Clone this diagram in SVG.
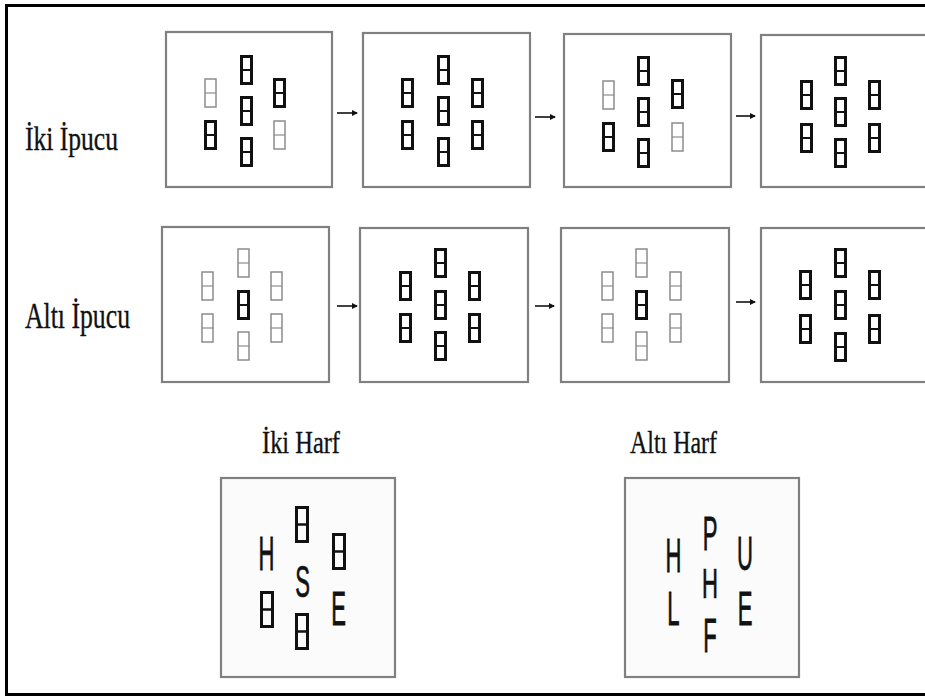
<svg xmlns="http://www.w3.org/2000/svg" xmlns:xlink="http://www.w3.org/1999/xlink" width="925" height="696" viewBox="0 0 925 696">
<style>
.frame{fill:#fff;stroke:#808080;stroke-width:2.2}
.bframe{fill:#fbfbfb;stroke:#808080;stroke-width:2.2}
.lbl{font-family:"Liberation Serif","Times New Roman",serif;fill:#111;stroke:#111;stroke-width:0.3}
.seg{font-family:"Liberation Sans",Arial,sans-serif;font-size:48px;fill:#111;stroke:#111;stroke-width:0.8;text-anchor:middle}
.arr{stroke:#111;stroke-width:1.6;fill:none}
</style>
<defs>
<g id="dk"><rect x="1.5" y="1.5" width="10" height="27" fill="none" stroke="#111" stroke-width="3"/><line x1="1.5" y1="15" x2="11.5" y2="15" stroke="#111" stroke-width="2"/></g>
<g id="lt"><rect x="1" y="1" width="11" height="28" fill="none" stroke="#8c8c8c" stroke-width="1.5"/><line x1="1" y1="15" x2="12" y2="15" stroke="#8c8c8c" stroke-width="1.2"/></g>
<g id="bg"><rect x="1.5" y="1.5" width="11" height="34" fill="none" stroke="#111" stroke-width="3"/><line x1="1.5" y1="18.5" x2="12.5" y2="18.5" stroke="#111" stroke-width="2.5"/></g>
<marker id="ah" markerWidth="6" markerHeight="6" refX="5" refY="3" orient="auto" markerUnits="userSpaceOnUse"><path d="M0,0 L6,3 L0,6 Z" fill="#111"/></marker>
</defs>
<rect x="0" y="0" width="925" height="696" fill="#fff"/>
<rect x="6.5" y="5.5" width="940" height="689" fill="none" stroke="#000" stroke-width="3"/>

<g id="labels">
<text class="lbl" transform="translate(25,150) scale(1,1.15)" font-size="30" textLength="93" lengthAdjust="spacingAndGlyphs">İki İpucu</text>
<text class="lbl" transform="translate(25,328) scale(1,1.15)" font-size="31" textLength="105" lengthAdjust="spacingAndGlyphs">Altı İpucu</text>
<text class="lbl" transform="translate(262,453) scale(1,1.15)" font-size="28" textLength="78" lengthAdjust="spacingAndGlyphs">İki Harf</text>
<text class="lbl" transform="translate(630,453) scale(1,1.15)" font-size="28" textLength="87" lengthAdjust="spacingAndGlyphs">Altı Harf</text>
</g>

<g id="r1p1">
<rect class="frame" x="166" y="32" width="166" height="155"/>
<use href="#lt" x="204" y="78"/><use href="#dk" x="204" y="120"/>
<use href="#dk" x="240" y="55"/><use href="#dk" x="240" y="96"/><use href="#dk" x="240" y="137"/>
<use href="#dk" x="273" y="78"/><use href="#lt" x="273" y="120"/>
</g>
<g id="r1p2">
<rect class="frame" x="363" y="33" width="167" height="154"/>
<use href="#dk" x="401" y="78"/><use href="#dk" x="401" y="120"/>
<use href="#dk" x="437" y="55"/><use href="#dk" x="437" y="96"/><use href="#dk" x="437" y="137"/>
<use href="#dk" x="471" y="78"/><use href="#dk" x="471" y="120"/>
</g>
<g id="r1p3">
<rect class="frame" x="564" y="34" width="167" height="153"/>
<use href="#lt" x="602" y="80"/><use href="#dk" x="602" y="122"/>
<use href="#dk" x="637" y="56"/><use href="#dk" x="637" y="97"/><use href="#dk" x="637" y="138"/>
<use href="#dk" x="671" y="79"/><use href="#lt" x="671" y="122"/>
</g>
<g id="r1p4">
<rect class="frame" x="761" y="35" width="175" height="152"/>
<use href="#dk" x="800" y="80"/><use href="#dk" x="800" y="123"/>
<use href="#dk" x="834" y="56"/><use href="#dk" x="834" y="97"/><use href="#dk" x="834" y="138"/>
<use href="#dk" x="868" y="80"/><use href="#dk" x="868" y="123"/>
</g>

<g id="r2p1">
<rect class="frame" x="162" y="227" width="167" height="155"/>
<use href="#lt" x="201" y="271"/><use href="#lt" x="201" y="313"/>
<use href="#lt" x="237" y="248"/><use href="#dk" x="237" y="290"/><use href="#lt" x="237" y="331"/>
<use href="#lt" x="270" y="271"/><use href="#lt" x="270" y="313"/>
</g>
<g id="r2p2">
<rect class="frame" x="360" y="228" width="168" height="154"/>
<use href="#dk" x="399" y="271"/><use href="#dk" x="399" y="313"/>
<use href="#dk" x="434" y="248"/><use href="#dk" x="434" y="290"/><use href="#dk" x="434" y="331"/>
<use href="#dk" x="468" y="271"/><use href="#dk" x="468" y="313"/>
</g>
<g id="r2p3">
<rect class="frame" x="561" y="228" width="168" height="154"/>
<use href="#lt" x="601" y="271"/><use href="#lt" x="601" y="313"/>
<use href="#lt" x="635" y="248"/><use href="#dk" x="635" y="290"/><use href="#lt" x="635" y="331"/>
<use href="#lt" x="669" y="271"/><use href="#lt" x="669" y="313"/>
</g>
<g id="r2p4">
<rect class="frame" x="761" y="228" width="175" height="154"/>
<use href="#dk" x="799" y="270"/><use href="#dk" x="799" y="314"/>
<use href="#dk" x="834" y="248"/><use href="#dk" x="834" y="290"/><use href="#dk" x="834" y="332"/>
<use href="#dk" x="868" y="270"/><use href="#dk" x="868" y="314"/>
</g>

<g id="iki-harf">
<rect class="bframe" x="221" y="478" width="174" height="199"/>
<use href="#bg" x="295" y="506"/><use href="#bg" x="295" y="613"/>
<use href="#bg" x="260" y="591"/><use href="#bg" x="332" y="533"/>
<text class="seg" transform="translate(266.5,570) scale(0.46,1)">H</text>
<text class="seg" transform="translate(302.5,597) scale(0.46,0.93)">S</text>
<text class="seg" transform="translate(338.5,625) scale(0.46,1)">E</text>
</g>
<g id="alti-harf">
<rect class="bframe" x="625" y="478" width="174" height="199"/>
<text class="seg" transform="translate(673.5,572) scale(0.46,1)">H</text>
<text class="seg" transform="translate(673.5,625) scale(0.46,1)">L</text>
<text class="seg" transform="translate(710,550) scale(0.46,1)">P</text>
<text class="seg" transform="translate(710,598) scale(0.46,0.88)">H</text>
<text class="seg" transform="translate(710,652) scale(0.46,1)">F</text>
<text class="seg" transform="translate(745,570) scale(0.46,1)">U</text>
<text class="seg" transform="translate(745,625) scale(0.46,1)">E</text>
</g>

<g id="connectors">
<line class="arr" x1="337" y1="113" x2="357" y2="113" marker-end="url(#ah)"/>
<line class="arr" x1="535" y1="117" x2="555" y2="117" marker-end="url(#ah)"/>
<line class="arr" x1="736" y1="116" x2="755" y2="116" marker-end="url(#ah)"/>
<line class="arr" x1="337" y1="306" x2="357" y2="306" marker-end="url(#ah)"/>
<line class="arr" x1="535" y1="306" x2="554" y2="306" marker-end="url(#ah)"/>
<line class="arr" x1="736" y1="302" x2="755" y2="302" marker-end="url(#ah)"/>
</g>
</svg>
